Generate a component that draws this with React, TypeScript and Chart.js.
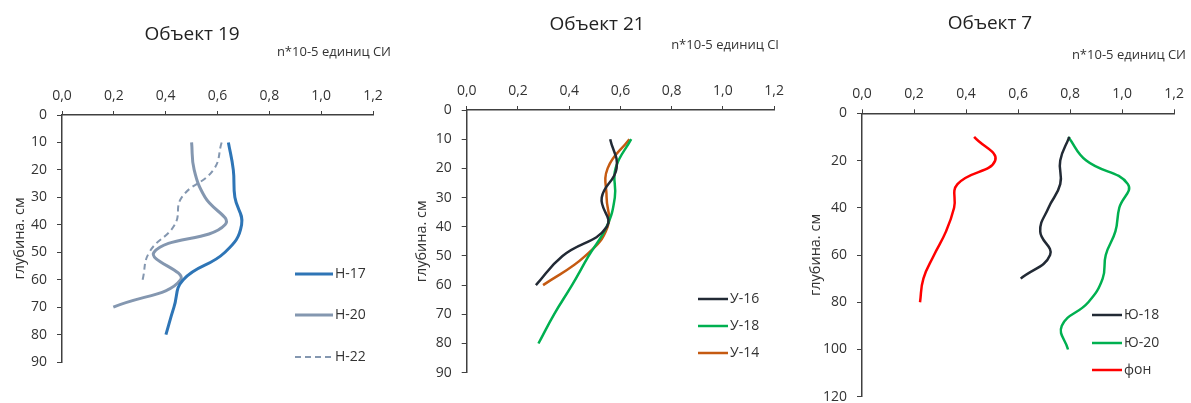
import React, { useEffect, useRef } from 'react';
import { Chart, registerables } from 'chart.js';

Chart.register(...registerables);

const FONT = "'Open Sans', 'Noto Sans', 'DejaVu Sans', sans-serif";
const TXT = '#333333';
const AX = '#404040';

// ---------- Data: Объект 19 ----------
const depthsH17 = [10, 20, 30, 40, 50, 60, 70, 80];
const valuesH17 = [0.642, 0.661, 0.667, 0.693, 0.629, 0.468, 0.432, 0.401];
const depthsH20 = [10, 20, 30, 40, 50, 60, 70];
const valuesH20 = [0.5, 0.51, 0.552, 0.629, 0.355, 0.458, 0.198];
const depthsH22 = [10, 20, 30, 40, 50, 60];
const valuesH22 = [0.616, 0.584, 0.462, 0.435, 0.337, 0.311];

// ---------- Data: Объект 21 ----------
const depthsU16 = [10, 20, 30, 40, 50, 60];
const valuesU16 = [0.56, 0.585, 0.527, 0.547, 0.374, 0.27];
const depthsU18 = [10, 20, 30, 40, 50, 60, 70, 80];
const valuesU18 = [0.642, 0.581, 0.578, 0.546, 0.476, 0.411, 0.341, 0.28];
const depthsU14 = [10, 20, 30, 40, 50, 60];
const valuesU14 = [0.635, 0.55, 0.546, 0.55, 0.463, 0.298];

// ---------- Data: Объект 7 ----------
const depthsJu18 = [10, 20, 30, 40, 50, 60, 70];
const valuesJu18 = [0.797, 0.762, 0.762, 0.717, 0.685, 0.723, 0.61];
const depthsJu20 = [10, 20, 30, 40, 50, 60, 70, 80, 90, 100];
const valuesJu20 = [0.793, 0.862, 1.022, 0.989, 0.974, 0.937, 0.925, 0.87, 0.768, 0.792];
const depthsFon = [10, 20, 30, 40, 50, 60, 70, 80];
const valuesFon = [0.431, 0.512, 0.367, 0.354, 0.323, 0.277, 0.236, 0.223];

// ---------- Axis ticks ----------
const xMin = 0;
const xMax = 1.2;
const xStep = 0.2;
const yTitle = 'глубина. см';

const toPoints = (depths: number[], values: number[]) =>
  depths.map((d, i) => ({ x: values[i], y: d }));

const CANVAS_H = 420;

type Series = {
  label: string;
  depths: number[];
  values: number[];
  color: string;
  width: number;
  dash?: number[];
};

type Panel = {
  left: number;
  width: number;
  title: string;
  titleX: number;
  titleY: number;
  unit: string;
  unitRight: number;
  unitY: number;
  area: { l: number; r: number; t: number; b: number };
  yMax: number;
  yStep: number;
  yTitlePad: number;
  legend: { x1: number; x2: number; ys: number[] };
  series: Series[];
};

const panels: Panel[] = [
  {
    left: 0,
    width: 400,
    title: 'Объект 19',
    titleX: 192,
    titleY: 35,
    unit: 'n*10-5 единиц СИ',
    unitRight: 391,
    unitY: 52,
    area: { l: 62, r: 373, t: 115, b: 362 },
    yMax: 90,
    yStep: 10,
    yTitlePad: 11,
    legend: { x1: 295, x2: 333, ys: [274, 315, 357] },
    series: [
      { label: 'Н-17', depths: depthsH17, values: valuesH17, color: '#2E75B6', width: 3 },
      { label: 'Н-20', depths: depthsH20, values: valuesH20, color: '#8497B0', width: 3 },
      { label: 'Н-22', depths: depthsH22, values: valuesH22, color: '#8497B0', width: 2, dash: [6, 4] },
    ],
  },
  {
    left: 400,
    width: 391,
    title: 'Объект 21',
    titleX: 197,
    titleY: 25,
    unit: 'n*10-5 единиц CI',
    unitRight: 379,
    unitY: 45,
    area: { l: 66.7, r: 377.7, t: 110, b: 372.7 },
    yMax: 90,
    yStep: 10,
    yTitlePad: 13,
    legend: { x1: 298, x2: 328, ys: [299, 326, 353] },
    series: [
      { label: 'У-16', depths: depthsU16, values: valuesU16, color: '#222A35', width: 2.5 },
      { label: 'У-18', depths: depthsU18, values: valuesU18, color: '#00B050', width: 2.5 },
      { label: 'У-14', depths: depthsU14, values: valuesU14, color: '#C55A11', width: 2.5 },
    ],
  },
  {
    left: 791,
    width: 400,
    title: 'Объект 7',
    titleX: 199,
    titleY: 24,
    unit: 'n*10-5 единиц СИ',
    unitRight: 395,
    unitY: 55,
    area: { l: 71, r: 383.3, t: 113.3, b: 396.7 },
    yMax: 120,
    yStep: 20,
    yTitlePad: 16,
    legend: { x1: 301, x2: 331, ys: [315, 343, 370] },
    series: [
      { label: 'Ю-18', depths: depthsJu18, values: valuesJu18, color: '#222A35', width: 2.5 },
      { label: 'Ю-20', depths: depthsJu20, values: valuesJu20, color: '#00B050', width: 2.5 },
      { label: 'фон', depths: depthsFon, values: valuesFon, color: '#FF0000', width: 2.5 },
    ],
  },
];

function makeTextPlugin(p: Panel) {
  return {
    id: 'panelTexts',
    afterDraw(chart: any) {
      const ctx = chart.ctx as CanvasRenderingContext2D;
      ctx.save();
      ctx.fillStyle = '#222222';
      ctx.textBaseline = 'middle';
      ctx.textAlign = 'center';
      ctx.font = `19px ${FONT}`;
      ctx.fillText(p.title, p.titleX, p.titleY);
      ctx.fillStyle = TXT;
      ctx.textAlign = 'right';
      ctx.font = `13px ${FONT}`;
      ctx.fillText(p.unit, p.unitRight, p.unitY);
      // legend
      ctx.textAlign = 'left';
      ctx.font = `14px ${FONT}`;
      p.series.forEach((s, i) => {
        const y = p.legend.ys[i];
        ctx.beginPath();
        ctx.strokeStyle = s.color;
        ctx.lineWidth = s.width;
        ctx.setLineDash(s.dash || []);
        ctx.moveTo(p.legend.x1, y);
        ctx.lineTo(p.legend.x2, y);
        ctx.stroke();
        ctx.setLineDash([]);
        ctx.fillStyle = TXT;
        ctx.fillText(s.label, p.legend.x2 + 2, y);
      });
      ctx.restore();
    },
  };
}

function PanelChart({ p }: { p: Panel }) {
  const ref = useRef<HTMLCanvasElement | null>(null);
  useEffect(() => {
    if (!ref.current) return;
    const xH = 30;
    const chart = new Chart(ref.current, {
      type: 'line',
      data: {
        datasets: p.series.map((s) => ({
          label: s.label,
          data: toPoints(s.depths, s.values),
          borderColor: s.color,
          backgroundColor: s.color,
          borderWidth: s.width,
          borderDash: s.dash || [],
          pointRadius: 0,
          fill: false,
          tension: 0.45,
        })),
      },
      options: {
        responsive: false,
        animation: false,
        events: [],
        layout: {
          padding: {
            left: 0,
            top: p.area.t - xH,
            right: p.width - p.area.r,
            bottom: CANVAS_H - p.area.b,
          },
        },
        plugins: {
          legend: { display: false },
          tooltip: { enabled: false },
          title: { display: false },
        },
        scales: {
          x: {
            type: 'linear',
            position: 'top',
            min: xMin,
            max: xMax,
            afterFit: (s: any) => {
              s.height = xH;
            },
            ticks: {
              stepSize: xStep,
              padding: 7,
              color: TXT,
              font: { family: FONT, size: 14 },
              callback: (v: any) => Number(v).toFixed(1).replace('.', ','),
            },
            grid: {
              drawOnChartArea: false,
              drawTicks: true,
              tickLength: 4,
              color: AX,
              lineWidth: 1,
            },
            border: { display: true, color: AX, width: 1.5 },
          },
          y: {
            type: 'linear',
            reverse: true,
            min: 0,
            max: p.yMax,
            afterFit: (s: any) => {
              s.width = p.area.l;
            },
            ticks: {
              stepSize: p.yStep,
              padding: 10,
              color: TXT,
              font: { family: FONT, size: 14 },
            },
            grid: {
              drawOnChartArea: false,
              drawTicks: true,
              tickLength: 5,
              color: AX,
              lineWidth: 1,
            },
            border: { display: true, color: AX, width: 1.5 },
            title: {
              display: true,
              text: yTitle,
              color: TXT,
              font: { family: FONT, size: 14.5 },
              padding: { top: p.yTitlePad, bottom: 0 },
            },
          },
        },
      } as any,
      plugins: [makeTextPlugin(p)],
    });
    return () => chart.destroy();
  }, [p]);
  return (
    <canvas
      ref={ref}
      width={p.width}
      height={CANVAS_H}
      style={{ position: 'absolute', left: p.left, top: 0, width: p.width, height: CANVAS_H }}
    />
  );
}

export default function App() {
  return (
    <div
      style={{
        position: 'absolute',
        left: 0,
        top: 0,
        width: 1191,
        height: 403,
        overflow: 'hidden',
        background: '#ffffff',
      }}
    >
      {panels.map((p, i) => (
        <PanelChart key={i} p={p} />
      ))}
    </div>
  );
}
